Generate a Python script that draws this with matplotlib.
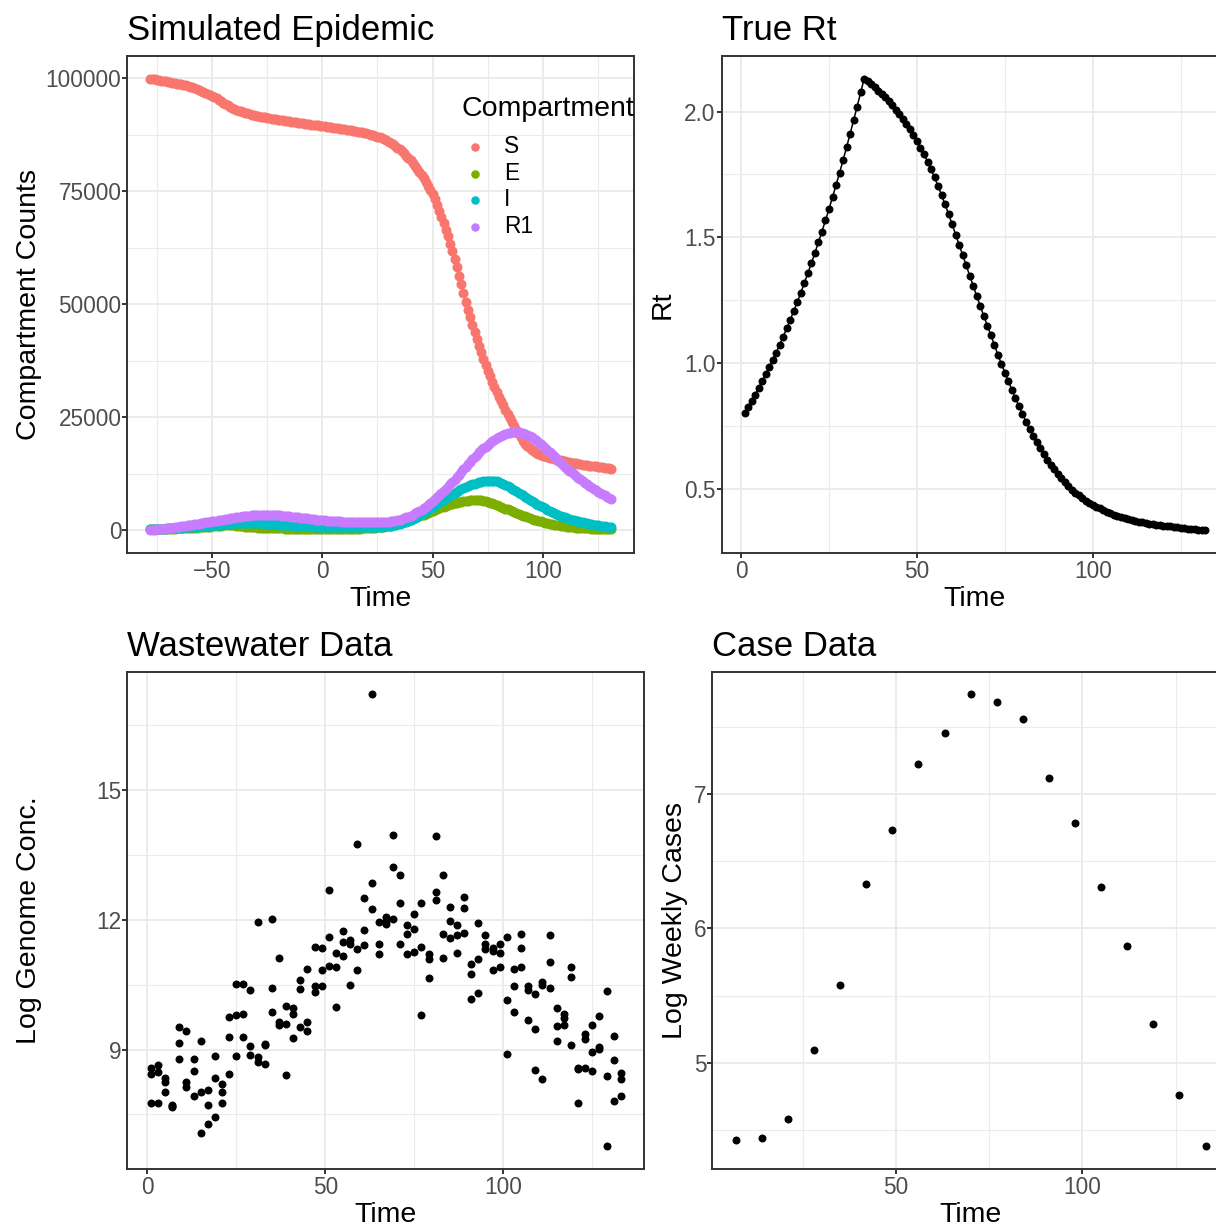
import numpy as np
import matplotlib
matplotlib.use("Agg")
import matplotlib.pyplot as plt

plt.rcParams['font.family'] = ['Liberation Sans', 'DejaVu Sans']

# Simulated epidemic: daily compartment counts (thousands), first day -78
epi_first_day = -78
s_counts = [
    99.9, 99.82, 99.74, 99.65, 99.56, 99.47, 99.38, 99.29, 99.2, 99.1,
    99.0, 98.9, 98.8, 98.7, 98.6, 98.5, 98.4, 98.25, 98.1, 97.95,
    97.8, 97.62, 97.44, 97.2, 97.0, 96.8, 96.55, 96.3, 96.05, 95.8,
    95.5, 95.2, 94.9, 94.6, 94.3, 93.95, 93.6, 93.4, 93.2, 93.0,
    92.82, 92.65, 92.5, 92.35, 92.2, 92.06, 91.93, 91.8, 91.7, 91.6,
    91.5, 91.4, 91.3, 91.2, 91.12, 91.04, 90.96, 90.88, 90.8, 90.72,
    90.65, 90.58, 90.5, 90.43, 90.36, 90.29, 90.22, 90.15, 90.08, 90.01,
    89.94, 89.87, 89.8, 89.73, 89.66, 89.59, 89.52, 89.45, 89.38, 89.3,
    89.23, 89.16, 89.09, 89.02, 88.95, 88.88, 88.81, 88.74, 88.66, 88.58,
    88.5, 88.42, 88.34, 88.26, 88.17, 88.08, 87.98, 87.88, 87.77, 87.65,
    87.52, 87.38, 87.23, 87.06, 86.88, 86.68, 86.46, 86.22, 85.96, 85.67,
    85.36, 85.02, 84.65, 84.25, 83.82, 83.36, 82.87, 82.35, 81.8, 81.22,
    80.6, 79.95, 79.27, 78.55, 77.8, 77.0, 76.15, 75.25, 74.3, 73.2,
    72.0, 70.7, 69.35, 67.95, 66.5, 65.0, 63.4, 61.7, 59.95, 58.15,
    56.3, 54.4, 52.45, 50.5, 48.8, 47.1, 45.45, 43.85, 42.3, 40.8,
    39.35, 37.95, 36.6, 35.3, 34.05, 32.85, 31.7, 30.6, 29.55, 28.55,
    27.6, 26.65, 25.75, 24.85, 23.95, 23.05, 22.15, 21.3, 20.5, 19.8,
    19.15, 18.6, 18.15, 17.75, 17.4, 17.1, 16.85, 16.65, 16.45, 16.3,
    16.15, 16.0, 15.87, 15.75, 15.63, 15.52, 15.42, 15.32, 15.22, 15.12,
    15.02, 14.92, 14.83, 14.74, 14.66, 14.58, 14.5, 14.43, 14.36, 14.29,
    14.22, 14.15, 14.08, 14.01, 13.94, 13.87, 13.8, 13.73, 13.66, 13.6,
]
e_counts = [
    0.2, 0.21, 0.22, 0.23, 0.24, 0.25, 0.26, 0.28, 0.29, 0.31,
    0.32, 0.34, 0.36, 0.38, 0.4, 0.42, 0.44, 0.47, 0.49, 0.52,
    0.55, 0.58, 0.61, 0.64, 0.68, 0.71, 0.75, 0.79, 0.83, 0.87,
    0.91, 0.95, 0.99, 1.03, 1.07, 1.1, 1.12, 1.08, 1.03, 0.98,
    0.93, 0.88, 0.83, 0.79, 0.75, 0.71, 0.67, 0.64, 0.61, 0.58,
    0.55, 0.52, 0.5, 0.48, 0.46, 0.44, 0.42, 0.4, 0.39, 0.37,
    0.36, 0.35, 0.34, 0.33, 0.32, 0.31, 0.3, 0.29, 0.28, 0.28,
    0.27, 0.27, 0.26, 0.26, 0.25, 0.25, 0.25, 0.24, 0.24, 0.24,
    0.24, 0.24, 0.24, 0.24, 0.25, 0.25, 0.25, 0.26, 0.26, 0.27,
    0.28, 0.29, 0.3, 0.31, 0.33, 0.35, 0.37, 0.4, 0.43, 0.46,
    0.49, 0.52, 0.55, 0.59, 0.63, 0.68, 0.74, 0.81, 0.89, 0.98,
    1.08, 1.2, 1.33, 1.47, 1.62, 1.78, 1.95, 2.12, 2.3, 2.48,
    2.67, 2.86, 3.05, 3.25, 3.45, 3.65, 3.85, 4.05, 4.25, 4.45,
    4.64, 4.83, 5.02, 5.2, 5.37, 5.53, 5.68, 5.82, 5.95, 6.07,
    6.18, 6.28, 6.37, 6.45, 6.52, 6.57, 6.61, 6.64, 6.65, 6.62,
    6.56, 6.47, 6.36, 6.23, 6.08, 5.91, 5.73, 5.54, 5.35, 5.16,
    4.97, 4.77, 4.57, 4.37, 4.17, 3.97, 3.77, 3.58, 3.39, 3.2,
    3.02, 2.84, 2.67, 2.51, 2.35, 2.2, 2.06, 1.92, 1.79, 1.67,
    1.55, 1.44, 1.34, 1.24, 1.15, 1.07, 0.99, 0.92, 0.85, 0.79,
    0.73, 0.68, 0.63, 0.58, 0.54, 0.5, 0.46, 0.43, 0.4, 0.37,
    0.34, 0.32, 0.3, 0.28, 0.26, 0.24, 0.22, 0.21, 0.19, 0.18,
]
i_counts = [
    0.2, 0.22, 0.24, 0.26, 0.28, 0.3, 0.32, 0.34, 0.37, 0.39,
    0.42, 0.44, 0.47, 0.5, 0.53, 0.56, 0.59, 0.62, 0.65, 0.69,
    0.72, 0.76, 0.8, 0.84, 0.88, 0.92, 0.96, 1.0, 1.05, 1.09,
    1.14, 1.19, 1.24, 1.29, 1.34, 1.39, 1.44, 1.48, 1.52, 1.55,
    1.58, 1.6, 1.62, 1.63, 1.63, 1.62, 1.61, 1.59, 1.57, 1.54,
    1.51, 1.48, 1.45, 1.42, 1.38, 1.35, 1.31, 1.28, 1.24, 1.21,
    1.17, 1.14, 1.11, 1.07, 1.04, 1.01, 0.98, 0.95, 0.93, 0.9,
    0.88, 0.85, 0.83, 0.81, 0.79, 0.77, 0.75, 0.74, 0.72, 0.71,
    0.69, 0.68, 0.67, 0.66, 0.65, 0.64, 0.63, 0.62, 0.62, 0.61,
    0.61, 0.61, 0.61, 0.61, 0.61, 0.61, 0.62, 0.62, 0.63, 0.64,
    0.65, 0.67, 0.69, 0.71, 0.74, 0.78, 0.82, 0.87, 0.93, 1.0,
    1.09, 1.19, 1.3, 1.43, 1.57, 1.72, 1.89, 2.07, 2.26, 2.48,
    2.72, 2.97, 3.24, 3.52, 3.82, 4.13, 4.45, 4.78, 5.11, 5.45,
    5.79, 6.12, 6.45, 6.77, 7.08, 7.38, 7.67, 7.95, 8.21, 8.5,
    8.78, 9.05, 9.3, 9.53, 9.75, 9.95, 10.13, 10.3, 10.45, 10.58,
    10.7, 10.8, 10.87, 10.92, 10.95, 10.95, 10.88, 10.77, 10.62, 10.44,
    10.23, 10.0, 9.75, 9.48, 9.2, 8.91, 8.61, 8.31, 8.0, 7.69,
    7.38, 7.07, 6.77, 6.47, 6.17, 5.88, 5.6, 5.33, 5.07, 4.8,
    4.54, 4.29, 4.05, 3.82, 3.6, 3.39, 3.19, 3.0, 2.82, 2.65,
    2.49, 2.34, 2.2, 2.06, 1.93, 1.81, 1.69, 1.58, 1.48, 1.38,
    1.29, 1.2, 1.12, 1.04, 0.97, 0.9, 0.84, 0.78, 0.72, 0.67,
]
r1_counts = [
    0.0, 0.05, 0.1, 0.15, 0.2, 0.25, 0.31, 0.37, 0.43, 0.49,
    0.55, 0.62, 0.69, 0.76, 0.83, 0.9, 0.98, 1.06, 1.14, 1.22,
    1.3, 1.38, 1.46, 1.54, 1.62, 1.7, 1.78, 1.86, 1.94, 2.02,
    2.1, 2.18, 2.26, 2.34, 2.42, 2.5, 2.58, 2.66, 2.74, 2.82,
    2.89, 2.96, 3.03, 3.09, 3.15, 3.2, 3.25, 3.29, 3.32, 3.35,
    3.37, 3.38, 3.39, 3.39, 3.38, 3.36, 3.34, 3.31, 3.28, 3.24,
    3.2, 3.15, 3.1, 3.05, 3.0, 2.94, 2.88, 2.82, 2.76, 2.7,
    2.64, 2.58, 2.52, 2.46, 2.4, 2.35, 2.3, 2.25, 2.2, 2.16,
    2.12, 2.08, 2.04, 2.0, 1.97, 1.94, 1.91, 1.88, 1.85, 1.83,
    1.81, 1.79, 1.77, 1.75, 1.74, 1.73, 1.72, 1.71, 1.7, 1.7,
    1.7, 1.7, 1.71, 1.72, 1.74, 1.76, 1.79, 1.83, 1.88, 1.94,
    2.01, 2.1, 2.2, 2.32, 2.46, 2.62, 2.8, 3.0, 3.22, 3.44,
    3.68, 3.94, 4.22, 4.52, 4.85, 5.2, 5.57, 5.96, 6.37, 6.8,
    7.25, 7.71, 8.18, 8.66, 9.15, 9.65, 10.15, 10.66, 11.17, 11.72,
    12.3, 12.88, 13.46, 14.04, 14.6, 15.15, 15.68, 16.2, 16.7, 17.18,
    17.64, 18.08, 18.5, 18.9, 19.28, 19.64, 19.98, 20.3, 20.6, 20.87,
    21.1, 21.3, 21.46, 21.58, 21.66, 21.7, 21.7, 21.66, 21.58, 21.46,
    21.3, 21.1, 20.86, 20.58, 20.26, 19.9, 19.51, 19.09, 18.65, 18.2,
    17.74, 17.27, 16.8, 16.33, 15.86, 15.39, 14.93, 14.48, 14.04, 13.61,
    13.19, 12.78, 12.38, 11.99, 11.61, 11.24, 10.88, 10.53, 10.19, 9.84,
    9.5, 9.17, 8.85, 8.54, 8.24, 7.95, 7.67, 7.4, 7.14, 6.89,
]
compartments = ["S", "E", "I", "R1"]
compartment_colors = ["#F8766D", "#7CAE00", "#00BFC4", "#C77CFF"]

# True Rt, days 1..132
rt_first_day = 1
rt_values = [
    0.802, 0.826, 0.850, 0.875, 0.901, 0.928, 0.955, 0.983, 1.012, 1.042,
    1.073, 1.105, 1.138, 1.172, 1.207, 1.243, 1.280, 1.318, 1.357, 1.397,
    1.438, 1.480, 1.523, 1.567, 1.612, 1.659, 1.707, 1.756, 1.806, 1.858,
    1.911, 1.965, 2.020, 2.076, 2.131, 2.120, 2.108, 2.096, 2.083, 2.070,
    2.056, 2.041, 2.025, 2.008, 1.990, 1.971, 1.951, 1.930, 1.907, 1.883,
    1.857, 1.830, 1.801, 1.770, 1.738, 1.704, 1.668, 1.631, 1.592, 1.552,
    1.511, 1.470, 1.429, 1.388, 1.347, 1.306, 1.266, 1.226, 1.187, 1.149,
    1.111, 1.073, 1.033, 0.997, 0.962, 0.927, 0.893, 0.860, 0.828, 0.797,
    0.767, 0.738, 0.711, 0.685, 0.661, 0.638, 0.616, 0.596, 0.577, 0.559,
    0.542, 0.526, 0.511, 0.497, 0.485, 0.474, 0.463, 0.453, 0.444, 0.436,
    0.429, 0.422, 0.415, 0.409, 0.403, 0.398, 0.393, 0.388, 0.384, 0.380,
    0.376, 0.373, 0.370, 0.367, 0.364, 0.362, 0.360, 0.358, 0.356, 0.354,
    0.353, 0.351, 0.349, 0.347, 0.345, 0.344, 0.342, 0.341, 0.339, 0.338,
    0.337, 0.336,
]

# Wastewater: sampled every other day, three replicates per day
ww_days = list(range(1, 134, 2))
ww_log_conc = [
    [8.57, 8.43, 7.76], [8.65, 8.49, 7.77], [8.35, 8.26, 8.02], [7.72, 7.67, 7.69],
    [9.53, 9.16, 8.79], [9.44, 8.25, 8.13], [8.79, 8.51, 7.93], [9.21, 8.03, 7.08],
    [8.07, 7.71, 7.28], [8.84, 8.35, 7.45], [8.20, 8.01, 7.76], [9.75, 9.29, 8.44],
    [10.51, 9.80, 8.84], [10.51, 9.83, 9.30], [10.37, 9.08, 8.87], [11.95, 8.82, 8.72],
    [9.13, 8.67, 9.10], [12.02, 10.42, 9.86], [11.11, 9.64, 9.57], [10.00, 9.59, 8.41],
    [9.97, 9.83, 9.27], [10.60, 10.40, 9.53], [10.86, 9.63, 9.44], [11.38, 10.47, 10.34],
    [11.34, 10.84, 10.47], [12.69, 11.60, 10.94], [11.24, 10.90, 9.99], [11.74, 11.48, 11.17],
    [11.54, 11.44, 10.50], [13.75, 11.32, 10.84], [12.50, 11.77, 11.42], [17.22, 12.85, 12.25],
    [11.96, 11.44, 11.21], [12.06, 11.90, 11.98], [13.96, 13.23, 12.01], [13.03, 12.39, 11.44],
    [11.88, 11.67, 11.21], [12.14, 11.80, 11.25], [12.39, 11.37, 9.81], [11.21, 11.09, 10.65],
    [13.95, 12.64, 12.46], [13.03, 11.68, 11.11], [12.31, 11.98, 11.59], [11.89, 11.65, 11.23],
    [12.53, 12.28, 11.69], [10.98, 10.75, 10.16], [11.93, 11.09, 10.32], [11.65, 11.44, 11.32],
    [11.36, 11.28, 10.83], [11.44, 11.23, 10.91], [11.61, 10.15, 8.89], [10.86, 10.47, 9.88],
    [11.68, 11.35, 10.91], [10.47, 10.38, 9.68], [10.29, 9.47, 8.53], [10.57, 10.49, 8.31],
    [11.65, 11.02, 10.42], [9.97, 9.55, 9.19], [9.83, 9.73, 9.56], [10.91, 10.67, 9.10],
    [8.57, 7.77, 8.55], [9.36, 9.24, 8.57], [9.58, 8.94, 8.51], [9.77, 9.07, 9.02],
    [10.36, 8.39, 6.76], [9.32, 8.75, 7.81], [8.45, 8.31, 7.92],
]

# Weekly cases (log)
case_days = [7, 14, 21, 28, 35, 42, 49, 56, 63, 70, 77, 84, 91, 98, 105, 112, 119, 126, 133]
log_weekly_cases = [4.43, 4.44, 4.58, 5.10, 5.58, 6.33, 6.73, 7.22, 7.45, 7.74,
                    7.68, 7.56, 7.12, 6.78, 6.31, 5.87, 5.29, 4.76, 4.38]

W, H = 1216, 1226
fig = plt.figure(figsize=(W / 100, H / 100), dpi=100)


def add_panel(left, top, right, bottom):
    # pixel box -> figure fraction
    return fig.add_axes([left / W, 1 - bottom / H, (right - left) / W, (bottom - top) / H])


def style(ax):
    ax.set_axisbelow(True)
    ax.grid(which='major', color='#EBEBEB', linewidth=1.4)
    ax.grid(which='minor', color='#EBEBEB', linewidth=0.8)
    for sp in ax.spines.values():
        sp.set_color('#333333')
        sp.set_linewidth(1.4)
    ax.tick_params(which='major', length=3.4, width=1.4, color='#333333',
                   labelsize=16.3, labelcolor='#4D4D4D')
    ax.tick_params(which='minor', length=0)
    ax.tick_params(axis='x', pad=2.0)
    ax.tick_params(axis='y', pad=0.8)


def expand(lo, hi):
    d = (hi - lo) * 0.05
    return lo - d, hi + d


ax1 = add_panel(127.3, 56, 634.3, 552.7)
ax2 = add_panel(721.5, 56, 1228.5, 552.7)
ax3 = add_panel(127.3, 671.7, 644.3, 1169)
ax4 = add_panel(712.3, 671.7, 1229, 1169)

TITLE_PAD = 11.6
DOT = 33          # black data points
EPI_DOT = 52      # compartment points

# --- Simulated epidemic
epi_series = [s_counts, e_counts, i_counts, r1_counts]
for name, vals, col in zip(compartments, epi_series, compartment_colors):
    days = np.arange(epi_first_day, epi_first_day + len(vals))
    ax1.scatter(days, np.array(vals) * 1000, s=EPI_DOT, color=col, linewidths=0, label=name)
last_day = epi_first_day + len(s_counts) - 1
ax1.set_xlim(*expand(epi_first_day, last_day))
ax1.set_ylim(*expand(0, max(s_counts) * 1000))
ax1.set_xticks([-50, 0, 50, 100])
ax1.set_xticks([-75, -25, 25, 75, 125], minor=True)
ax1.set_yticks([0, 25000, 50000, 75000, 100000])
ax1.set_yticklabels(['0', '25000', '50000', '75000', '100000'])
ax1.set_yticks([12500, 37500, 62500, 87500], minor=True)
style(ax1)
ax1.set_title("Simulated Epidemic", loc='left', fontsize=25, pad=TITLE_PAD)
ax1.set_xlabel("Time", fontsize=20.5)
ax1.set_ylabel("Compartment Counts", fontsize=20.5)
ax1.xaxis.set_label_coords(0.5, -0.067)
ax1.yaxis.set_label_coords(-0.168, 0.5)
ax1.text(0.660, 0.879, "Compartment", transform=ax1.transAxes, fontsize=20.5,
         ha='left', va='baseline', clip_on=True)
ax1.legend(loc='center left', bbox_to_anchor=(0.662, 0.7373),
           frameon=False, fontsize=16.3, handlelength=1.1, handletextpad=0.7,
           labelspacing=0.165, borderpad=0, borderaxespad=0, scatterpoints=1,
           markerscale=0.85)

# --- True Rt
rt_days = np.arange(rt_first_day, rt_first_day + len(rt_values))
ax2.plot(rt_days, rt_values, color='black', linewidth=1.1)
ax2.scatter(rt_days, rt_values, s=DOT, color='black', linewidths=0, zorder=3)
ax2.set_xlim(*expand(rt_days[0], rt_days[-1]))
ax2.set_ylim(*expand(min(rt_values), max(rt_values)))
ax2.set_xticks([0, 50, 100])
ax2.set_xticks([25, 75, 125], minor=True)
ax2.set_yticks([0.5, 1.0, 1.5, 2.0])
ax2.set_yticklabels(['0.5', '1.0', '1.5', '2.0'])
ax2.set_yticks([0.75, 1.25, 1.75], minor=True)
style(ax2)
ax2.set_title("True Rt", loc='left', fontsize=25, pad=TITLE_PAD)
ax2.set_xlabel("Time", fontsize=20.5)
ax2.set_ylabel("Rt", fontsize=20.5)
ax2.xaxis.set_label_coords(0.5, -0.067)
ax2.yaxis.set_label_coords(-0.090, 0.5)

# --- Wastewater
ww_x = np.repeat(ww_days, 3)
ww_y = np.array(ww_log_conc).ravel()
ax3.scatter(ww_x, ww_y, s=DOT, color='black', linewidths=0)
ax3.set_xlim(*expand(min(ww_days), max(ww_days)))
ax3.set_ylim(*expand(ww_y.min(), ww_y.max()))
ax3.set_xticks([0, 50, 100])
ax3.set_xticks([25, 75, 125], minor=True)
ax3.set_yticks([9, 12, 15])
ax3.set_yticks([7.5, 10.5, 13.5, 16.5], minor=True)
style(ax3)
ax3.set_title("Wastewater Data", loc='left', fontsize=25, pad=TITLE_PAD)
ax3.set_xlabel("Time", fontsize=20.5)
ax3.set_ylabel("Log Genome Conc.", fontsize=20.5)
ax3.xaxis.set_label_coords(0.5, -0.066)
ax3.yaxis.set_label_coords(-0.165, 0.5)

# --- Cases
ax4.scatter(case_days, log_weekly_cases, s=DOT, color='black', linewidths=0)
ax4.set_xlim(*expand(min(case_days), max(case_days)))
ax4.set_ylim(*expand(min(log_weekly_cases), max(log_weekly_cases)))
ax4.set_xticks([50, 100])
ax4.set_xticks([25, 75, 125], minor=True)
ax4.set_yticks([5, 6, 7])
ax4.set_yticks([4.5, 5.5, 6.5, 7.5], minor=True)
style(ax4)
ax4.set_title("Case Data", loc='left', fontsize=25, pad=TITLE_PAD)
ax4.set_xlabel("Time", fontsize=20.5)
ax4.set_ylabel("Log Weekly Cases", fontsize=20.5)
ax4.xaxis.set_label_coords(0.5, -0.066)
ax4.yaxis.set_label_coords(-0.047, 0.5)

fig.savefig("out.png", dpi=100)
